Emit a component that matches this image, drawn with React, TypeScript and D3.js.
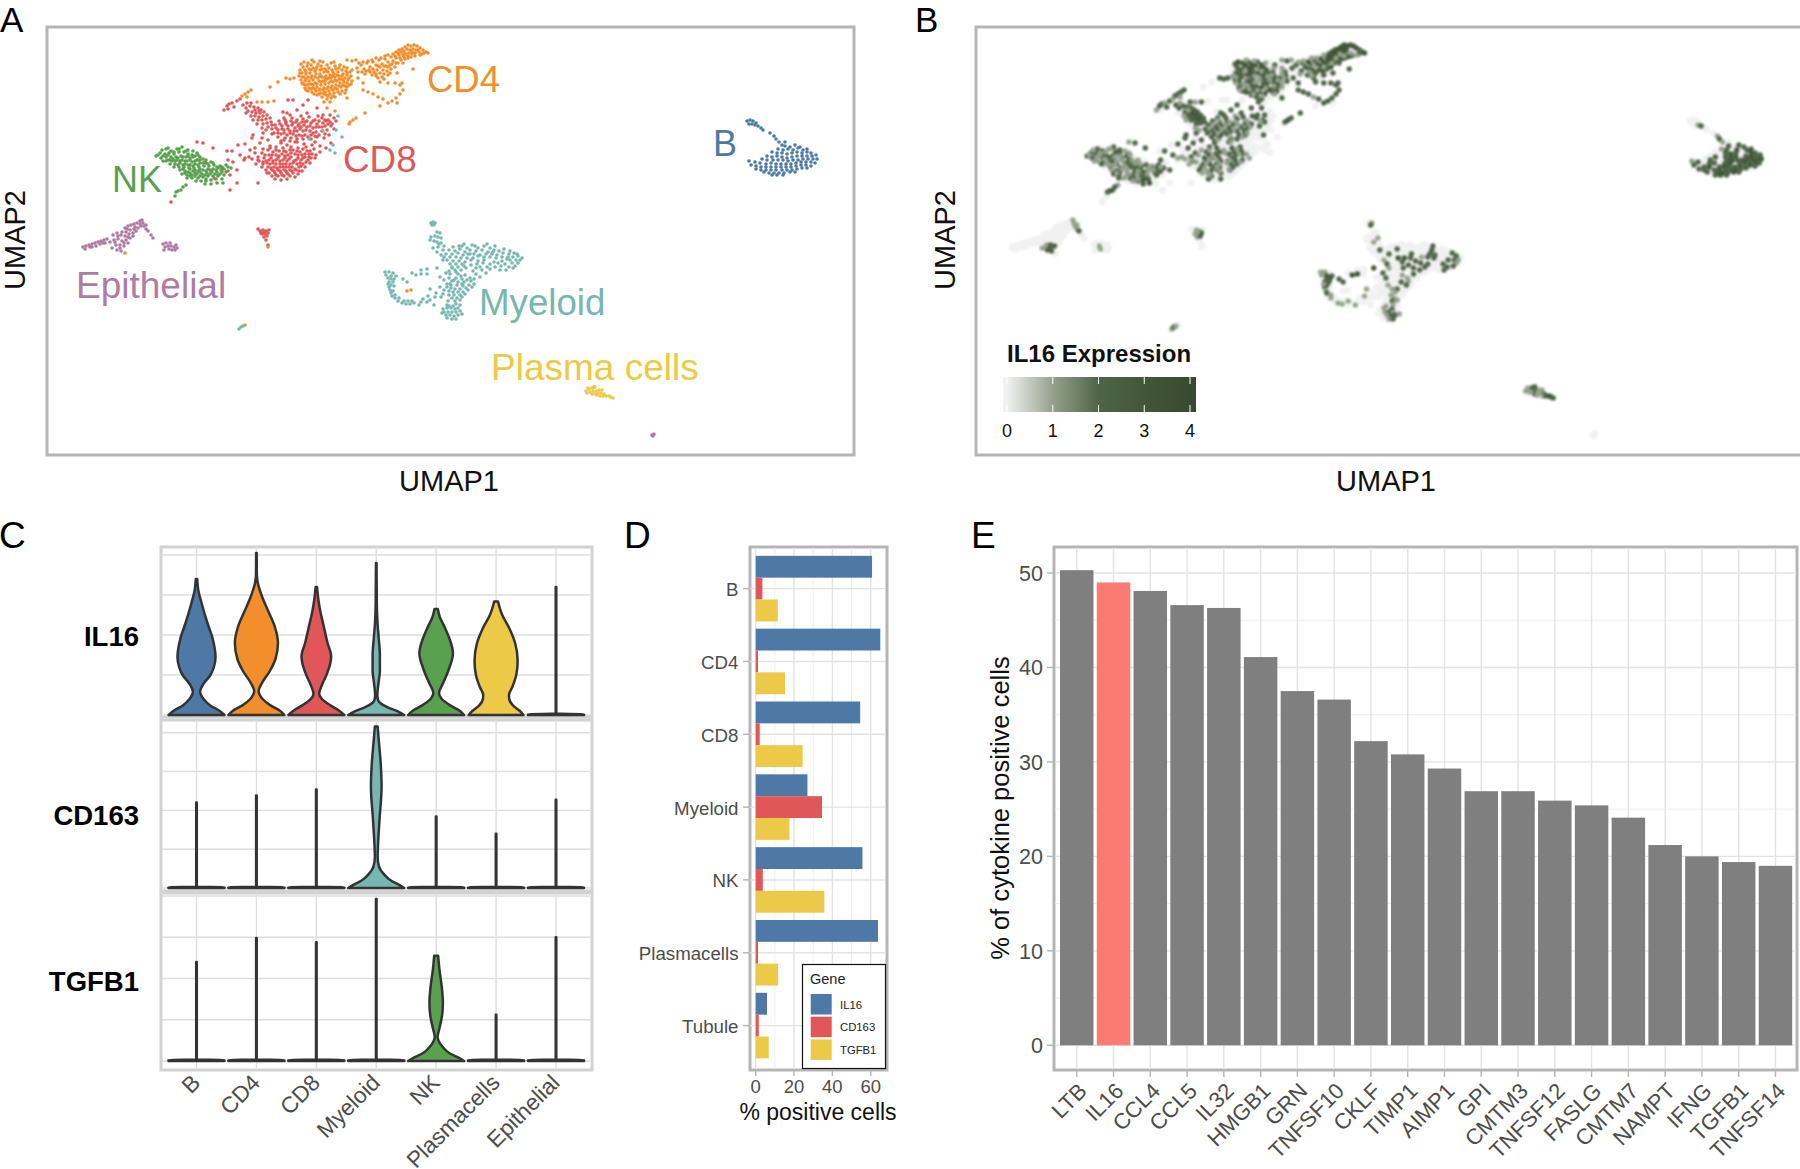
import React from "react";
import * as d3 from "d3";

// ---------- single-cell embedding: flat lists of umap1, umap2, IL16 expression
const cd4Cells = [
301,64,2,304,62,3,308,63,2,303,67,2,307,66,0,311,65,3,314,62,2,318,64,3,300,70,0,305,70,2,309,69,3,313,68,3,317,67,3,321,66,3,323,62,2,327,65,3,331,63,1,335,66,0,329,68,3,325,69,3,320,70,2,315,71,3,310,73,1,306,74,2,302,73,2,299,76,1,304,77,3,308,77,2,312,76,3,316,74,3,320,74,2,324,72,3,328,72,3,332,70,2,336,69,0,340,65,2,344,67,0,338,72,2,342,70,0,346,71,0,350,72,2,334,74,3,330,75,3,326,76,2,322,77,0,318,78,3,313,80,2,309,81,0,305,81,2,301,80,2,303,84,0,307,85,2,311,84,3,315,83,3,319,81,2,323,81,0,327,79,3,331,78,2,335,77,3,339,76,3,343,74,0,347,75,0,351,76,2,345,78,2,341,79,3,337,81,2,333,82,3,329,83,2,325,84,0,321,85,2,317,87,3,313,88,2,309,88,0,305,88,2,308,91,2,312,92,3,316,91,3,320,89,2,324,88,3,328,87,3,332,86,2,336,85,0,340,83,2,344,82,3,348,80,0,352,81,2,349,85,0,345,86,3,341,87,2,337,89,2,333,90,3,329,91,0,325,92,2,321,93,3,317,95,2,322,97,2,326,95,0,330,94,3,334,93,0,338,92,2,342,91,2,346,90,0,327,99,2,331,98,0,335,97,0,324,102,2,330,102,0,347,98,2,
357,68,2,361,65,2,364,69,0,367,63,2,370,67,2,373,62,3,376,65,2,379,60,3,382,64,2,385,59,3,388,62,3,391,57,3,362,72,0,366,71,2,370,72,0,373,69,2,377,70,3,380,67,0,383,70,2,386,66,3,390,65,2,393,61,3,396,58,3,399,55,3,372,75,2,376,74,0,380,73,2,384,74,0,387,71,3,391,69,2,395,67,3,398,63,3,401,60,2,404,57,3,382,77,0,388,75,2,
393,54,2,396,52,3,399,50,3,402,49,3,405,47,3,408,45,3,411,46,3,414,45,3,417,46,3,420,48,3,423,50,2,426,52,2,428,53,3,395,56,3,398,53,3,401,52,3,404,51,3,407,49,3,410,50,3,413,49,0,416,50,0,419,52,0,422,54,2,403,55,3,406,54,3,409,53,3,412,54,1,415,56,2,405,59,3,408,58,3,411,57,3,403,63,2,
347,60,1,352,61,2,356,60,1,358,78,2,363,83,2,380,82,2,378,78,2,397,73,2,413,69,2,388,83,2,395,83,2,400,85,2,
363,90,2,368,92,2,373,94,2,378,97,1,383,99,2,388,103,2,392,101,2,396,98,2,400,94,2,403,90,2,402,83,2,380,106,0,397,103,0,
242,96,2,245,94,2,248,92,2,251,90,2,247,97,1,257,102,2,262,102,1,268,102,2,274,101,0,270,87,0,278,82,0,286,78,2,290,79,2,294,78,2,327,108,2,335,111,0,350,122,2,353,120,3,356,118,2,349,124,0,365,113,2,
];
const cd4ExtraCells = [
312,60,1,320,61,1,334,62,0,306,72,0,311,70,1,316,69,0,322,69,1,327,71,1,333,72,0,339,68,1,347,68,1,352,70,0,300,73,0,302,77,1,306,79,0,311,78,1,315,77,0,320,76,1,325,78,1,329,78,0,333,76,1,337,75,1,342,76,0,347,73,1,349,78,1,302,83,1,305,85,0,309,84,1,313,85,1,317,84,0,321,82,1,325,81,1,331,81,0,335,80,1,339,79,0,343,80,1,347,83,1,351,84,0,306,90,1,311,89,0,315,89,1,319,90,0,323,90,1,327,89,0,331,88,1,335,88,0,339,86,1,343,85,0,347,87,1,314,94,0,319,94,1,324,94,0,328,96,1,333,96,0,340,94,1,345,93,0,
359,63,0,363,62,1,368,61,1,372,60,0,376,58,1,381,58,1,385,56,0,388,55,1,358,72,0,365,74,1,369,70,0,374,72,1,378,66,1,384,66,0,388,67,1,392,64,0,396,63,1,400,58,1,404,54,1,408,56,1,412,52,0,418,50,0,415,53,1,420,55,1,424,53,0,376,76,1,390,73,0,384,79,0,
];
const cd8Cells = [
281,143,2,287,145,0,295,142,2,304,144,0,276,147,2,283,148,2,291,147,0,298,148,2,306,147,2,312,145,0,268,150,1,273,152,2,279,151,0,286,152,2,293,150,0,300,152,2,307,151,2,314,149,0,320,152,0,262,153,2,269,155,0,276,155,2,282,154,2,288,155,0,295,154,2,302,155,2,309,154,2,316,155,0,258,157,2,264,158,0,271,158,2,278,158,2,285,158,3,291,157,0,298,158,2,305,157,0,311,158,0,
252,159,1,259,161,2,266,161,0,273,161,2,280,161,0,287,161,2,294,161,2,301,160,2,308,160,2,256,164,1,263,164,0,270,164,2,276,164,3,283,164,2,290,164,0,297,164,2,303,164,2,310,163,0,262,167,0,268,167,2,274,167,0,280,167,2,286,167,2,292,167,0,299,167,2,305,167,0,
266,170,2,272,170,0,278,170,2,284,170,2,290,170,0,296,170,2,302,171,0,269,173,1,275,173,2,281,173,0,287,173,2,293,173,0,298,174,0,272,176,0,278,176,2,284,176,0,290,176,0,295,177,0,275,179,2,281,180,0,287,179,2,
270,146,0,263,149,0,255,153,0,249,157,1,244,160,0,315,142,0,320,146,0,326,148,0,331,143,0,317,137,0,324,138,0,329,135,2,
290,115,2,301,116,1,307,113,2,318,116,2,330,115,2,284,118,2,292,118,2,297,120,0,303,119,2,309,117,2,315,120,0,322,118,2,328,120,2,334,118,0,279,121,2,286,122,2,293,123,3,299,124,3,305,122,0,311,123,2,317,124,2,323,123,0,330,122,2,336,121,0,275,125,2,282,126,3,288,126,2,295,128,3,301,127,0,307,127,2,313,128,2,319,127,0,325,126,2,331,126,0,272,129,2,278,130,3,284,130,3,290,131,2,297,131,2,303,131,2,310,131,2,316,132,0,327,130,0,334,129,0,274,133,2,281,134,3,287,135,3,293,134,2,299,135,0,305,135,2,311,135,2,319,135,0,278,137,2,285,138,2,291,138,0,297,139,2,303,139,2,311,139,0,281,141,2,
224,110,1,227,106,2,229,104,2,232,103,1,234,107,2,237,101,2,240,99,1,228,109,0,243,105,2,246,108,2,250,106,2,254,107,2,258,108,2,261,110,2,248,111,0,252,112,2,256,113,2,260,113,3,264,112,2,255,116,2,259,117,2,263,116,3,267,115,2,258,120,2,262,120,2,266,119,3,270,118,2,263,124,2,267,123,2,271,122,2,268,127,0,
287,113,2,283,112,0,297,110,2,303,105,2,293,100,0,288,100,0,308,100,0,317,108,2,323,115,2,325,120,0,
197,142,1,203,143,2,213,148,2,227,151,0,232,151,2,238,145,0,245,144,2,252,138,2,253,135,2,233,162,0,237,170,2,230,190,0,237,183,0,258,183,0,230,175,0,228,160,2,222,168,2,226,172,2,218,176,0,214,178,2,205,162,2,210,170,0,198,160,2,171,202,0,240,155,2,245,158,1,250,150,0,255,148,2,260,143,2,262,138,0,268,140,2,263,133,2,
];
const cd8ExtraCells = [
270,148,0,276,150,1,284,151,0,290,150,1,297,151,0,303,149,1,310,151,0,265,155,1,272,155,0,279,156,1,285,156,0,291,153,1,298,155,0,305,154,1,312,154,1,258,160,1,263,162,1,269,160,0,276,160,1,283,160,1,289,159,0,296,160,1,303,158,0,309,157,0,315,158,1,267,163,0,273,163,1,280,164,0,286,164,1,293,163,1,300,163,0,306,162,1,271,168,1,277,168,0,283,167,1,289,167,0,295,169,1,301,166,0,267,173,0,274,171,1,280,171,0,286,171,1,292,171,0,299,171,0,276,175,1,282,175,0,288,174,0,
285,120,1,291,121,0,296,122,1,302,122,1,307,121,0,313,121,1,319,121,0,326,121,1,332,124,0,280,124,1,286,124,0,292,125,1,298,126,0,304,125,1,310,126,0,316,127,1,322,127,0,328,124,0,276,128,1,282,129,0,288,129,1,294,131,0,300,129,1,306,130,0,313,133,1,322,131,0,278,133,0,284,133,1,290,133,0,296,136,1,302,136,0,308,137,1,315,136,0,325,134,0,284,140,1,290,141,0,297,142,1,
247,103,1,251,103,0,255,110,1,259,111,0,251,116,1,246,113,0,253,120,1,257,124,0,262,128,1,266,130,1,272,125,0,272,134,0,
];
const nkCells = [
166,149,2,171,151,2,177,149,1,182,147,2,188,150,2,193,151,1,160,153,2,165,154,2,169,153,1,174,154,2,179,152,0,184,152,2,188,154,2,192,155,0,197,153,1,156,156,2,161,158,2,166,157,1,171,157,2,176,157,2,181,156,2,186,157,0,190,158,2,195,156,2,200,157,0,163,161,1,168,160,0,172,161,2,177,160,2,182,160,2,187,161,0,192,162,1,197,160,2,203,159,0,170,164,2,175,164,1,180,163,2,185,164,2,190,165,0,195,164,2,200,163,2,206,163,2,211,162,0,
174,167,0,179,167,2,184,167,0,189,168,2,194,168,0,199,167,2,204,166,2,209,166,2,214,165,2,220,166,1,226,165,2,180,170,1,185,171,2,188,172,2,193,171,0,198,171,0,203,170,2,208,169,2,213,169,0,218,168,2,224,169,2,231,168,2,182,174,2,187,175,2,192,175,0,197,174,1,202,174,2,207,173,2,212,172,2,217,172,0,222,172,2,228,171,2,187,178,2,192,178,1,198,178,2,203,177,2,208,176,2,213,176,2,218,175,0,224,175,2,196,181,0,201,181,1,206,181,2,211,180,3,216,179,2,222,179,0,205,184,0,211,184,2,217,183,3,223,183,0,
186,185,1,183,187,2,181,190,2,178,191,3,176,192,2,175,196,0,
];
const nkExtraCells = [
162,150,1,168,148,0,174,152,1,179,149,1,186,151,0,158,155,1,163,156,0,168,155,1,173,159,1,178,158,0,183,157,1,188,156,1,193,157,0,198,155,1,166,161,1,170,160,0,175,161,1,180,161,0,185,161,1,190,160,1,195,161,0,200,160,1,206,160,1,178,165,1,183,165,1,188,165,0,193,166,1,198,165,0,203,163,1,208,164,1,213,163,0,217,167,1,222,167,0,228,167,1,183,169,0,190,169,1,195,170,1,200,169,0,206,171,1,211,171,0,216,170,1,221,170,1,185,173,1,190,173,0,195,173,1,200,172,0,205,175,1,210,174,0,215,174,1,220,174,0,190,176,0,195,176,1,200,176,0,206,179,1,
];
const bCells = [
747,121,0,750,120,0,753,121,0,756,123,0,749,124,0,752,124,0,755,125,1,758,126,2,761,128,0,763,130,0,770,133,0,774,136,1,776,139,2,779,142,1,782,145,0,785,142,0,
785,146,2,790,147,0,795,145,2,800,147,2,778,149,1,783,150,2,788,149,0,793,150,3,798,148,0,803,150,2,807,149,2,772,152,0,777,153,0,782,153,2,787,154,3,792,153,2,797,152,0,802,153,0,807,152,3,811,153,2,767,156,0,772,157,2,777,156,0,782,157,2,787,158,3,792,157,3,797,156,0,802,156,2,807,156,3,812,156,2,816,155,2,762,159,0,767,160,2,773,160,0,778,160,0,783,160,2,788,161,3,793,160,2,798,160,2,803,159,3,808,159,3,813,159,2,817,159,3,
749,161,1,755,162,2,760,163,0,766,164,2,771,163,2,776,164,0,781,164,2,786,164,3,791,164,0,796,163,2,801,162,3,806,162,2,811,162,3,815,163,2,751,165,2,756,166,0,761,167,2,766,167,3,771,167,0,776,167,2,781,167,3,786,167,2,791,167,2,796,166,3,801,165,2,806,165,3,811,166,2,756,169,2,761,170,2,766,170,0,771,170,2,776,170,3,782,170,2,787,170,2,792,170,3,797,169,2,802,168,2,807,168,0,764,172,2,769,173,0,774,173,2,779,173,3,784,173,2,790,172,3,795,172,2,772,175,2,777,175,3,783,175,2,
];
const myeloidCells = [
431,223,0,433,222,0,435,223,1,432,225,0,434,225,2,437,232,0,440,233,0,435,236,0,438,237,0,441,238,1,434,241,0,430,240,0,437,242,1,441,243,0,444,246,0,438,247,0,443,250,2,
462,246,0,467,248,0,472,245,0,478,248,0,484,246,0,490,248,0,495,246,2,449,250,0,455,251,0,460,249,2,465,252,0,470,250,0,476,251,0,482,250,0,488,252,0,494,250,2,499,251,0,504,249,0,446,254,0,452,254,2,458,253,0,463,255,0,468,254,0,474,254,2,480,255,0,486,254,0,492,254,2,497,255,2,503,253,0,509,254,0,514,253,2,444,257,0,450,257,0,456,257,0,461,258,3,467,258,3,473,258,2,490,257,2,496,258,2,502,257,0,508,257,0,513,257,0,518,256,2,
447,260,1,453,261,0,459,261,0,465,262,2,478,261,2,484,260,0,502,261,0,510,260,2,516,260,2,520,260,1,450,264,2,456,264,0,462,264,0,471,265,2,483,263,2,490,264,2,498,263,0,505,264,2,512,263,0,518,263,1,452,267,0,458,267,0,466,268,2,476,268,2,487,267,2,495,267,0,501,266,0,509,267,2,515,266,2,455,270,0,461,270,0,473,271,0,482,270,2,490,269,0,506,270,2,
446,273,2,450,274,0,458,274,0,465,275,1,476,274,2,486,273,0,440,277,0,449,278,2,456,278,0,462,279,0,470,278,1,480,277,0,452,281,0,458,282,0,464,282,2,471,281,1,447,284,0,451,285,1,457,285,0,463,286,0,469,285,2,474,284,0,440,287,0,451,288,0,455,289,1,460,289,2,466,288,0,472,287,0,449,291,0,453,292,0,458,292,1,463,292,0,468,290,0,436,293,0,443,294,0,449,295,0,454,295,1,460,295,0,465,294,0,428,296,1,435,297,0,441,297,0,452,298,0,457,298,1,462,297,0,423,299,0,430,300,0,448,301,0,455,301,2,460,300,1,421,302,0,427,302,0,456,304,1,419,305,1,434,305,0,447,305,0,460,305,0,
443,309,0,447,308,1,451,308,0,455,309,2,444,312,0,448,312,1,452,312,2,456,312,1,460,311,0,446,315,0,450,315,1,454,316,2,458,315,2,
385,272,1,389,272,1,393,273,0,396,276,2,391,276,3,394,279,3,393,282,2,391,285,2,389,287,3,390,290,1,391,293,2,392,296,0,395,298,1,398,301,0,402,303,1,406,304,1,410,304,0,414,303,0,
407,282,2,412,273,0,416,275,3,403,279,2,421,270,0,427,269,0,437,268,3,421,274,3,427,274,0,430,289,1,
338,116,0,323,131,0,336,130,0,342,137,0,309,139,0,333,145,0,330,150,0,335,153,0,239,329,1,241,327,2,243,326,1,594,387,1,
];
const myeloidExtraCells = [
464,244,0,475,246,0,487,244,0,493,252,0,510,251,0,517,254,0,453,247,0,459,246,0,470,254,0,478,256,0,484,257,1,507,259,0,471,260,0,477,264,0,494,262,0,522,258,0,452,268,1,464,266,0,480,267,0,500,270,0,513,268,0,449,271,0,456,272,0,461,276,0,444,280,0,474,279,0,467,280,0,444,290,0,447,287,0,450,284,0,462,284,0,454,280,0,386,275,1,388,278,0,391,279,2,389,282,2,388,284,1,394,286,0,393,291,0,395,295,1,399,298,0,404,301,0,408,301,0,412,301,1,449,306,1,453,306,0,458,308,0,442,313,0,462,314,1,447,318,0,452,319,1,456,319,2,433,248,0,437,252,0,441,255,0,443,260,0,439,244,0,431,237,0,
];
const epithelialCells = [
83,247,0,86,246,0,89,245,0,92,244,0,95,243,0,98,242,0,101,241,0,104,240,0,107,239,0,100,244,0,96,246,0,92,247,0,103,243,0,
125,228,0,128,226,0,131,225,0,134,224,0,137,223,0,140,221,0,142,220,1,126,232,0,130,230,0,134,229,0,138,228,0,141,226,0,144,226,1,146,229,1,113,235,0,117,233,0,121,235,0,125,236,0,129,234,0,133,233,0,136,231,0,114,240,0,118,239,0,122,241,0,126,240,0,130,238,0,128,243,0,
116,245,1,120,245,2,124,246,2,112,248,1,117,250,2,121,251,2,148,231,2,151,235,0,153,238,0,163,244,0,166,243,0,165,247,0,168,246,1,171,246,0,174,247,0,177,248,0,169,249,1,172,250,0,175,250,0,
85,249,0,90,247,0,105,243,0,110,242,0,118,236,0,122,232,0,127,229,0,135,227,0,140,224,0,115,242,0,124,243,0,128,237,0,133,236,0,120,248,2,164,250,0,170,243,0,176,245,0,143,223,1,146,225,1,
652,435,0,654,434,0,653,436,0,
];
const smallCd8Cells = [260,231,0,263,230,1,266,231,1,269,230,0,262,234,1,265,234,0,268,233,2,264,237,1,267,236,2,266,240,0,268,245,0,258,229,0,261,233,0,264,232,1];
const plasmaCells = [586,391,1,589,389,2,592,388,2,595,387,2,590,392,1,593,391,0,596,391,2,599,390,1,592,394,0,595,394,2,598,393,1,601,393,1,604,394,2,600,396,0,603,396,1,606,396,2,609,396,3,611,397,3,613,398,2,588,388,1,602,390,1,587,393,0,597,395,1];
const contaminantOrange = [125,253,0,268,247,0,245,325,0,407,291,0,411,290,0];

const clusterColors = { B: "#4e79a7", CD4: "#f28e2b", CD8: "#e15759", Myeloid: "#76b7b2", NK: "#59a14f", Plasma: "#edc948", Epithelial: "#b07aa1" };
const clusterLabels = [
  { text: "CD4", color: clusterColors.CD4, u1: 427, u2: 92, size: 36.5 },
  { text: "CD8", color: clusterColors.CD8, u1: 343, u2: 172, size: 36.8 },
  { text: "NK", color: clusterColors.NK, u1: 112, u2: 192, size: 36 },
  { text: "B", color: clusterColors.B, u1: 713, u2: 156, size: 36 },
  { text: "Epithelial", color: clusterColors.Epithelial, u1: 76, u2: 298, size: 37 },
  { text: "Myeloid", color: clusterColors.Myeloid, u1: 479, u2: 315, size: 36.7 },
  { text: "Plasma cells", color: clusterColors.Plasma, u1: 491, u2: 380, size: 37 },
];

// ---------- violins: [expression, relative density]
const violinCats = ["B", "CD4", "CD8", "Myeloid", "NK", "Plasmacells", "Epithelial"];
const violinFills = [clusterColors.B, clusterColors.CD4, clusterColors.CD8, clusterColors.Myeloid, clusterColors.NK, clusterColors.Plasma, clusterColors.Epithelial];
const il16Violins = [
  [[0,1],[.1,.83],[.24,.49],[.4,.25],[.58,.13],[.8,.27],[1,.5],[1.2,.62],[1.45,.68],[1.9,.58],[2.3,.39],[2.8,.18],[3.1,.07],[3.4,.025]],
  [[0,1],[.1,.85],[.24,.5],[.4,.22],[.6,.08],[.8,.2],[1.1,.48],[1.4,.68],[1.8,.77],[2.2,.66],[2.6,.42],[3,.18],[3.3,.05],[3.5,.015],[4.05,.01]],
  [[0,1],[.1,.83],[.24,.5],[.4,.2],[.53,.1],[.75,.2],[1,.36],[1.3,.5],[1.47,.53],[1.8,.4],[2.2,.27],[2.6,.14],[2.9,.07],[3.2,.025]],
  [[0,1],[.08,.8],[.18,.45],[.3,.14],[.38,.06],[.5,.04],[.8,.08],[1.1,.13],[1.5,.13],[1.9,.09],[2.3,.045],[2.8,.02],[3.8,.01]],
  [[0,1],[.1,.85],[.24,.5],[.4,.2],[.55,.1],[.8,.25],[1.1,.43],[1.55,.6],[1.9,.48],[2.2,.3],[2.45,.13],[2.65,.06]],
  [[0,.98],[.1,.85],[.24,.6],[.4,.47],[.5,.46],[.7,.58],[1,.72],[1.35,.77],[1.8,.68],[2.2,.45],[2.5,.22],[2.75,.1],[2.84,.07]],
  [[0,1],[.025,1],[.03,.01],[3.2,.01]],
];
const cd163Violins = [
  [[0,1],[.025,1],[.03,.01],[2.2,.01]],
  [[0,1],[.025,1],[.03,.01],[2.38,.01]],
  [[0,1],[.025,1],[.03,.01],[2.54,.01]],
  [[0,1],[.08,.82],[.18,.55],[.35,.28],[.55,.1],[.8,.05],[1.2,.07],[1.8,.12],[2.6,.19],[3.2,.16],[3.8,.09],[4.16,.05]],
  [[0,1],[.025,1],[.03,.01],[1.84,.01]],
  [[0,1],[.025,1],[.03,.01],[1.4,.01]],
  [[0,1],[.025,1],[.03,.01],[2.27,.01]],
];
const tgfb1Violins = [
  [[0,1],[.025,1],[.03,.01],[2.4,.01]],
  [[0,1],[.025,1],[.03,.01],[2.98,.01]],
  [[0,1],[.025,1],[.03,.01],[2.88,.01]],
  [[0,1],[.025,1],[.03,.01],[3.93,.01]],
  [[0,1],[.08,.8],[.2,.45],[.35,.22],[.5,.08],[.58,.05],[.8,.12],[1.1,.21],[1.4,.24],[1.8,.2],[2.2,.12],[2.55,.07]],
  [[0,1],[.025,1],[.03,.01],[1.12,.01]],
  [[0,1],[.025,1],[.03,.01],[3,.01]],
];

// ---------- panel D
const dCats = ["B", "CD4", "CD8", "Myeloid", "NK", "Plasmacells", "Tubule"];
const dGenes = ["IL16", "CD163", "TGFB1"];
const dGeneColors = ["#4e79a7", "#e15759", "#edc948"];
const dIL16 = [60.7, 65, 54.5, 27, 55.7, 63.8, 5.9];
const dCD163 = [3.5, 1.2, 2.1, 34.6, 3.7, 1.2, 1.6];
const dTGFB1 = [11.5, 15.3, 24.5, 17.6, 35.8, 11.7, 6.8];

// ---------- panel E
const eGenes = ["LTB","IL16","CCL4","CCL5","IL32","HMGB1","GRN","TNFSF10","CKLF","TIMP1","AIMP1","GPI","CMTM3","TNFSF12","FASLG","CMTM7","NAMPT","IFNG","TGFB1","TNFSF14"];
const eValues = [50.3,49,48.1,46.6,46.3,41.1,37.5,36.6,32.2,30.8,29.3,26.9,26.9,25.9,25.4,24.1,21.2,20,19.4,19];

const FONT = "'Liberation Sans', Arial, sans-serif";
const FRAME = "#b5b5b5";
const GRID = "#e3e3e3";
const TICK = "#4d4d4d";

const triples = (flat: number[]) => d3.range(0, flat.length, 3).map((i) => ({ u1: flat[i], u2: flat[i + 1], e: flat[i + 2] }));
const allCells = [cd4Cells, cd4ExtraCells, cd8Cells, cd8ExtraCells, nkCells, nkExtraCells, bCells, myeloidCells, myeloidExtraCells, epithelialCells, smallCd8Cells, plasmaCells, contaminantOrange];
const cellColors = [clusterColors.CD4, clusterColors.CD4, clusterColors.CD8, clusterColors.CD8, clusterColors.NK, clusterColors.NK, clusterColors.B, clusterColors.Myeloid, clusterColors.Myeloid, clusterColors.Epithelial, clusterColors.CD8, clusterColors.Plasma, clusterColors.CD4];

const u1Domain = [47, 854];
const u2Domain = [27, 455];
const xA = d3.scaleLinear().domain(u1Domain).range([47, 854]);
const yU = d3.scaleLinear().domain(u2Domain).range([27, 455]);
const xB = d3.scaleLinear().domain(u1Domain).range([976, 1799]);
const exprColor = d3.scaleLinear<string>().domain([0, 1, 2, 3, 4]).range(["#f1f1f1", "#94a18d", "#4f6547", "#425739", "#384a31"]);

const PanelLetter = ({ x, y, t, size = 37 }: any) => <text x={x} y={y} fontSize={size} fontFamily={FONT}>{t}</text>;

function PanelA() {
  return (
    <g>
      <rect x={47} y={27} width={807} height={428} fill="#fff" stroke={FRAME} strokeWidth={3} />
      {allCells.map((cells, c) => (
        <g key={c} fill={cellColors[c]}>
          {triples(cells).map((p, i) => <circle key={i} cx={xA(p.u1)} cy={yU(p.u2)} r={1.8} />)}
        </g>
      ))}
      {clusterLabels.map((l) => (
        <text key={l.text} x={xA(l.u1)} y={yU(l.u2)} fill={l.color} fontSize={l.size} fontFamily={FONT}>{l.text}</text>
      ))}
      <text x={449} y={491} textAnchor="middle" fontSize={29} fontFamily={FONT} fill="#111">UMAP1</text>
      <text transform="translate(25,240) rotate(-90)" textAnchor="middle" fontSize={29} fontFamily={FONT} fill="#111">UMAP2</text>
    </g>
  );
}

function PanelB() {
  const cells = allCells.flatMap((c) => triples(c));
  const zeros = cells.filter((p) => p.e === 0 || p.e === 1);
  const expressing = cells.filter((p) => p.e > 1);
  const legendX = d3.scaleLinear().domain([0, 4]).range([1007, 1190]);
  const stops = [0, 0.5, 1, 1.5, 2, 2.5, 3, 3.5, 4];
  return (
    <g>
      <rect x={976} y={27} width={830} height={428} fill="#fff" stroke={FRAME} strokeWidth={3} />
      <g style={{ filter: "blur(0.8px)" }}>
        {zeros.map((p, i) => (
          <circle key={i} cx={xB(p.u1)} cy={yU(p.u2)} r={3.6} fill={exprColor(0)} />
        ))}
        {cells.filter((p) => p.e > 0).map((p, i) => (
          <circle key={i} cx={xB(p.u1)} cy={yU(p.u2)} r={p.e === 1 ? 2.6 : 2.7} fill={exprColor(p.e)} />
        ))}
      </g>
      <defs>
        <linearGradient id="il16grad" x1="0" x2="1" y1="0" y2="0">
          {stops.map((s) => <stop key={s} offset={(legendX(s) - 1003) / 193} stopColor={exprColor(s)} />)}
        </linearGradient>
      </defs>
      <rect x={1003} y={377} width={193} height={35} fill="url(#il16grad)" />
      {legendX.ticks(4).map((t) => (
        <g key={t}>
          <line x1={legendX(t)} x2={legendX(t)} y1={377} y2={384} stroke="#fff" strokeWidth={1} />
          <line x1={legendX(t)} x2={legendX(t)} y1={405} y2={412} stroke="#fff" strokeWidth={1} />
          <text x={legendX(t)} y={437} textAnchor="middle" fontSize={18} fontFamily={FONT} fill="#111">{t}</text>
        </g>
      ))}
      <text x={1007} y={362} fontSize={24} fontWeight="bold" fontFamily={FONT} fill="#111">IL16 Expression</text>
      <text x={1386} y={491} textAnchor="middle" fontSize={29} fontFamily={FONT} fill="#111">UMAP1</text>
      <text transform="translate(955,240) rotate(-90)" textAnchor="middle" fontSize={29} fontFamily={FONT} fill="#111">UMAP2</text>
    </g>
  );
}

const violinX = d3.scalePoint<string>().domain(violinCats).range([196.5, 556]);
const violinW = d3.scaleLinear().domain([0, 1]).range([0, 28]);

function ViolinRow({ top, bottom, y0, y4, gene, labelY, data }: any) {
  const y = d3.scaleLinear().domain([0, 4]).range([y0, y4]);
  const area = (cx: number) =>
    d3.area<number[]>().y((d) => y(d[0])).x0((d) => cx - violinW(d[1])).x1((d) => cx + violinW(d[1])).curve(d3.curveMonotoneY);
  return (
    <g>
      <rect x={161} y={top} width={431} height={bottom - top} fill="#fff" stroke="#d2d2d2" strokeWidth={3} />
      {y.ticks(4).map((t) => (
        <line key={t} x1={162} x2={590} y1={y(t)} y2={y(t)} stroke="#dedede" strokeWidth={1.4} />
      ))}
      {violinCats.map((c) => (
        <line key={c} x1={violinX(c)} x2={violinX(c)} y1={top} y2={bottom} stroke="#dedede" strokeWidth={1.4} />
      ))}
      {violinCats.map((c, i) => (
        <path key={c} d={area(violinX(c) as number)(data[i]) as string} fill={violinFills[i]} stroke="#333" strokeWidth={2.5} strokeLinejoin="round" />
      ))}
      <text x={139} y={labelY} textAnchor="end" dominantBaseline="central" fontSize={27.5} fontWeight="bold" fontFamily={FONT}>{gene}</text>
    </g>
  );
}

function PanelC() {
  return (
    <g>
      <ViolinRow top={547} bottom={717} y0={715} y4={555} gene="IL16" labelY={636} data={il16Violins} />
      <ViolinRow top={720} bottom={891} y0={888} y4={732.7} gene="CD163" labelY={815} data={cd163Violins} />
      <ViolinRow top={893} bottom={1070} y0={1061} y4={896} gene="TGFB1" labelY={981} data={tgfb1Violins} />
      {violinCats.map((c) => (
        <text key={c} transform={`translate(${(violinX(c) as number) - 2},1077) rotate(-45)`} textAnchor="end" dominantBaseline="hanging" fontSize={22.6} fontFamily={FONT} fill={TICK} dy={-6}>{c}</text>
      ))}
    </g>
  );
}

function PanelD() {
  const x = d3.scaleLinear().domain([0, 60]).range([755.7, 870.7]);
  const y = d3.scaleBand().domain(dCats).range([552.2, 1062]).paddingInner(0.1).paddingOuter(0.05);
  const series = [dIL16, dCD163, dTGFB1];
  const inner = d3.scaleBand().domain(dGenes).range([0, y.bandwidth()]);
  return (
    <g>
      <rect x={750} y={547} width={137} height={523} fill="#fff" stroke={FRAME} strokeWidth={3} />
      {[10, 30, 50].map((t) => <line key={t} x1={x(t)} x2={x(t)} y1={548} y2={1069} stroke="#eee" strokeWidth={1} />)}
      {x.ticks(3).map((t) => <line key={t} x1={x(t)} x2={x(t)} y1={548} y2={1069} stroke={GRID} strokeWidth={1.4} />)}
      {dCats.map((c) => {
        const cy = (y(c) as number) + y.bandwidth() / 2;
        return <g key={c}>
          <line x1={750} x2={886} y1={cy} y2={cy} stroke={GRID} strokeWidth={1.4} />
          <line x1={743} x2={749} y1={cy} y2={cy} stroke={FRAME} strokeWidth={1.4} />
          <text x={738.5} y={cy + 1} textAnchor="end" dominantBaseline="central" fontSize={18.7} fontFamily={FONT} fill={TICK}>{c}</text>
        </g>;
      })}
      {dCats.map((c, i) => dGenes.map((g, j) => (
        <rect key={c + g} x={x(0)} y={(y(c) as number) + (inner(g) as number)} width={x(series[j][i]) - x(0)} height={inner.bandwidth()} fill={dGeneColors[j]} />
      )))}
      {x.ticks(3).map((t) => (
        <g key={t}>
          <line x1={x(t)} x2={x(t)} y1={1071} y2={1076} stroke={FRAME} strokeWidth={1.4} />
          <text x={x(t)} y={1093} textAnchor="middle" fontSize={18.5} fontFamily={FONT} fill={TICK}>{t}</text>
        </g>
      ))}
      <text x={818} y={1120} textAnchor="middle" fontSize={23} fontFamily={FONT} fill="#111">% positive cells</text>
      <rect x={802.5} y={964.5} width={83} height={104} fill="#fff" stroke="#111" strokeWidth={1.2} />
      <text x={810} y={984} fontSize={14.5} fontFamily={FONT} fill="#222">Gene</text>
      {dGenes.map((g, j) => (
        <g key={g}>
          <rect x={810.7} y={994 + j * 22.7} width={21} height={20.5} fill={dGeneColors[j]} />
          <text x={840} y={1004.5 + j * 22.7} dominantBaseline="central" fontSize={11.3} fontFamily={FONT} fill="#222">{g}</text>
        </g>
      ))}
    </g>
  );
}

function PanelE() {
  const x = d3.scaleBand().domain(eGenes).range([1056.7, 1795.5]).padding(0.09).align(0.5);
  const y = d3.scaleLinear().domain([0, 50]).range([1045.3, 573]);
  return (
    <g>
      <rect x={1054} y={547} width={743} height={523} fill="#fff" stroke={FRAME} strokeWidth={3} />
      {[5, 15, 25, 35, 45].map((t) => <line key={t} x1={1055} x2={1796} y1={y(t)} y2={y(t)} stroke="#eee" strokeWidth={1} />)}
      {y.ticks(5).map((t) => (
        <g key={t}>
          <line x1={1055} x2={1796} y1={y(t)} y2={y(t)} stroke={GRID} strokeWidth={1.4} />
          <line x1={1047} x2={1053} y1={y(t)} y2={y(t)} stroke={FRAME} strokeWidth={1.4} />
          <text x={1043} y={y(t) + 1} textAnchor="end" dominantBaseline="central" fontSize={21.5} fontFamily={FONT} fill={TICK}>{t}</text>
        </g>
      ))}
      {eGenes.map((g) => {
        const cx = (x(g) as number) + x.bandwidth() / 2;
        return <g key={g}>
          <line x1={cx} x2={cx} y1={548} y2={1069} stroke={GRID} strokeWidth={1.4} />
          <line x1={cx} x2={cx} y1={1071} y2={1077} stroke={FRAME} strokeWidth={1.4} />
        </g>;
      })}
      {eGenes.map((g, i) => (
        <rect key={g} x={x(g)} y={y(eValues[i])} width={x.bandwidth()} height={y(0) - y(eValues[i])} fill={g === "IL16" ? "#fb7a72" : "#7f7f7f"} />
      ))}
      {eGenes.map((g) => {
        const cx = (x(g) as number) + x.bandwidth() / 2;
        return <text key={g} transform={`translate(${cx + 6},1087) rotate(-45)`} textAnchor="end" dominantBaseline="central" fontSize={22} fontFamily={FONT} fill={TICK}>{g}</text>;
      })}
      <text transform="translate(1009,808) rotate(-90)" textAnchor="middle" fontSize={25.5} fontFamily={FONT} fill="#111">% of cytokine positive cells</text>
    </g>
  );
}

export default function App() {
  return (
    <svg width={1800} height={1169} viewBox="0 0 1800 1169" style={{ position: "absolute", left: 0, top: 0, display: "block", background: "#fff" }}>
      <PanelLetter x={0} y={32} size={35} t="A" />
      <PanelLetter x={915} y={32} size={35} t="B" />
      <PanelLetter x={-1} y={548} t="C" />
      <PanelLetter x={624} y={548} t="D" />
      <PanelLetter x={971} y={548} t="E" />
      <PanelA />
      <PanelB />
      <PanelC />
      <PanelD />
      <PanelE />
    </svg>
  );
}
